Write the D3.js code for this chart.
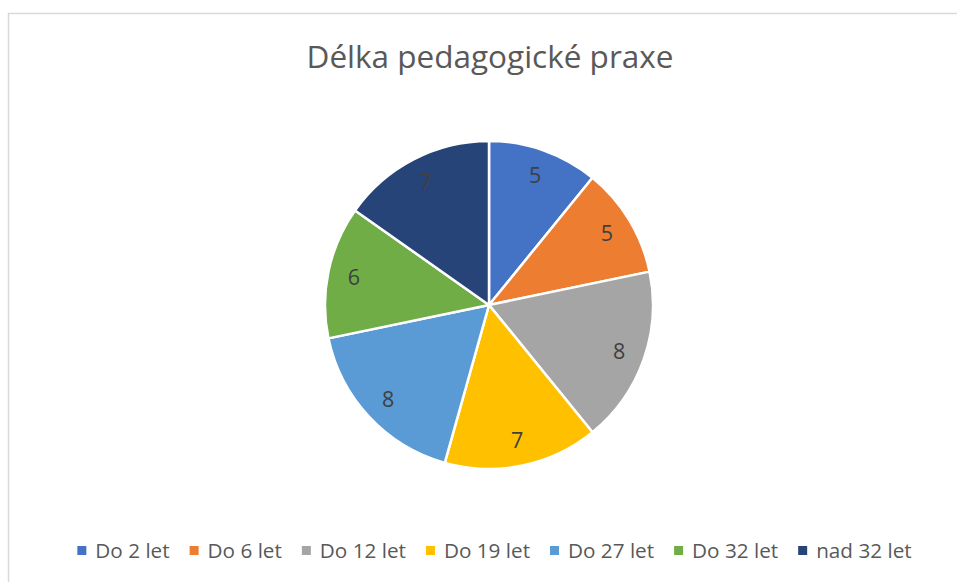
<!DOCTYPE html>
<html>
<head>
<meta charset="utf-8">
<script src="https://cdn.jsdelivr.net/npm/d3@7"></script>
<style>
  body { margin: 0; background: #fff; }
  text { font-family: "Open Sans", "Noto Sans", sans-serif; }
</style>
</head>
<body>
<div id="chart"></div>
<script>
////////////////////////////////////////////////////
// data
////////////////////////////////////////////////////
var title = "Délka pedagogické praxe";
var categories = ["Do 2 let", "Do 6 let", "Do 12 let", "Do 19 let", "Do 27 let", "Do 32 let", "nad 32 let"];
var values = [5, 5, 8, 7, 8, 6, 7];
var colors = ["#4472C4", "#ED7D31", "#A5A5A5", "#FFC000", "#5B9BD5", "#70AD47", "#264478"];
////////////////////////////////////////////////////

var W = 957, H = 582;
var cx = 489, cy = 305, R = 164;

var svg = d3.select("#chart").append("svg")
	.attr("width", W)
	.attr("height", H);

// chart area border
svg.append("rect")
	.attr("x", 8.5).attr("y", 13.5)
	.attr("width", W).attr("height", H)
	.attr("fill", "none")
	.attr("stroke", "#d9d9d9")
	.attr("stroke-width", 1.5);

svg.append("text")
	.attr("x", 490).attr("y", 68)
	.attr("text-anchor", "middle")
	.attr("font-size", 31.5)
	.attr("fill", "#595959")
	.text(title);

var rows = categories.map(function(c, i) { return {name: c, value: values[i], color: colors[i]}; });

var pie = d3.pie().sort(null).value(function(d) { return d.value; });
var arc = d3.arc().innerRadius(0).outerRadius(R);
var labelArc = d3.arc().innerRadius(138).outerRadius(138);

var g = svg.append("g").attr("transform", "translate(" + cx + "," + cy + ")");

g.selectAll("path.slice")
	.data(pie(rows))
	.enter().append("path")
		.attr("class", "slice")
		.attr("d", arc)
		.attr("fill", function(d) { return d.data.color; })
		.attr("stroke", "#fff")
		.attr("stroke-width", 2.5)
		.attr("stroke-linejoin", "round");

g.selectAll("text.lbl")
	.data(pie(rows))
	.enter().append("text")
		.attr("class", "lbl")
		.attr("transform", function(d) { return "translate(" + labelArc.centroid(d) + ")"; })
		.attr("text-anchor", "middle")
		.attr("dy", "0.36em")
		.attr("font-size", 21.5)
		.attr("fill", "#404040")
		.text(function(d) { return d.data.value; });

// legend: lay out items from measured text widths, then center
var leg = svg.append("g");
var items = leg.selectAll("g.item").data(rows).enter().append("g").attr("class", "item");
items.append("rect")
	.attr("width", 9).attr("height", 9)
	.attr("y", -5)
	.attr("fill", function(d) { return d.color; });
items.append("text")
	.attr("x", 18)
	.attr("dy", "0.36em")
	.attr("font-size", 20.7)
	.attr("fill", "#595959")
	.text(function(d) { return d.name; });

var xpos = 0;
items.each(function(d) {
	var w = d3.select(this).select("text").node().getComputedTextLength();
	d3.select(this).attr("transform", "translate(" + xpos + ",0)");
	xpos += 18 + w + 20;
});
var legW = xpos - 20;
leg.attr("transform", "translate(" + (494.5 - legW / 2) + ",551)");
</script>
</body>
</html>
